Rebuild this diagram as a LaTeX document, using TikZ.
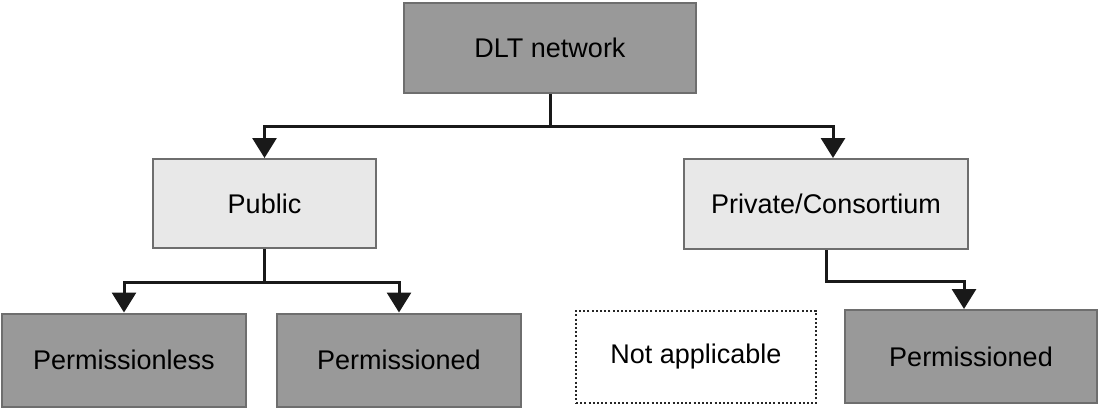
\documentclass[tikz,border=0pt]{standalone}
\usepackage{fontspec}
\setmainfont{Liberation Sans}
\usetikzlibrary{arrows.meta}
\definecolor{darkfill}{RGB}{153,153,153}
\definecolor{lightfill}{RGB}{232,232,232}
\definecolor{boxline}{RGB}{110,110,110}
\begin{document}
\begin{tikzpicture}[x=1pt,y=-1pt,
  darkbox/.style={draw=boxline,line width=2pt,fill=darkfill,rectangle,inner sep=0pt,font=\fontsize{27}{30}\selectfont},
  lightbox/.style={draw=boxline,line width=2pt,fill=lightfill,rectangle,inner sep=0pt,font=\fontsize{27}{30}\selectfont},
  dotbox/.style={draw=black!85,line width=2pt,dash pattern=on 2pt off 2.2pt,fill=white,rectangle,inner sep=0pt,font=\fontsize{27}{30}\selectfont},
  conn/.style={line width=3pt,black!90},
  arr/.style={conn,-{Triangle[length=20pt 0,width=24pt 0]}}]
\useasboundingbox (0,0) rectangle (1099,409);
\node[darkbox,minimum width=292pt,minimum height=90pt] (dlt) at (550,48) {DLT network};
\node[lightbox,minimum width=223pt,minimum height=89pt] (pub) at (264.5,203.5) {Public};
\node[lightbox,minimum width=284pt,minimum height=90pt] (priv) at (826,204) {Private/Consortium};
\node[darkbox,minimum width=244pt,minimum height=93pt] (pless) at (124,360) {Permissionless};
\node[darkbox,minimum width=244pt,minimum height=93pt] (pedl) at (399,360) {Permissioned};
\node[dotbox,minimum width=240pt,minimum height=92pt] (na) at (696,357) {Not applicable};
\node[darkbox,minimum width=252pt,minimum height=93pt] (pedr) at (971,356.5) {Permissioned};
\coordinate (j1) at (550,126);
\coordinate (j2) at (264.5,282);
\coordinate (j3) at (826,281);
\draw[conn] (dlt.south) -- (j1);
\draw[arr] (j1) -| (pub.north);
\draw[arr] (j1) -| ([xshift=7pt]priv.north);
\draw[conn] (pub.south) -- (j2);
\draw[arr] (j2) -| (pless.north);
\draw[arr] (j2) -| (pedl.north);
\draw[arr] (priv.south) -- (j3) -| ([xshift=-7pt]pedr.north);
\end{tikzpicture}
\end{document}
